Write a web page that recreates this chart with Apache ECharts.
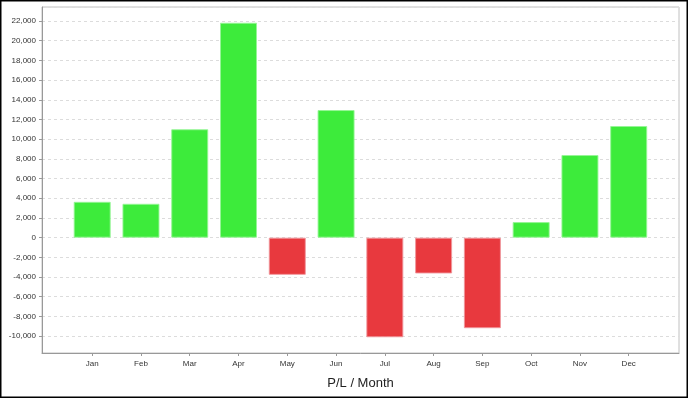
<!DOCTYPE html>
<html>
<head>
<meta charset="utf-8">
<script src="https://cdn.jsdelivr.net/npm/echarts@6.0.0/dist/echarts.min.js"></script>
</head>
<body style="margin:0;background:#fff;">
<div id="main" style="width:688px;height:398px;"></div>
<script type="text/javascript">
var months = ['Jan', 'Feb', 'Mar', 'Apr', 'May', 'Jun', 'Jul', 'Aug', 'Sep', 'Oct', 'Nov', 'Dec'];
var profit = [3640, 3440, 11010, 21830, -3780, 12960, -10120, -3640, -9200, 1580, 8390, 11340];
var yStep = 2000;

var GREEN = '#3deb3b';
var RED = '#e8393e';

// 5% padding above and below the data (the frame axis has no series, so compute it here)
var lo = Math.min.apply(null, profit);
var hi = Math.max.apply(null, profit);
var yMin = lo - (hi - lo) * 0.05;
var yMax = hi + (hi - lo) * 0.05;

var barData = profit.map(function (v) {
    return {
        value: v,
        itemStyle: {
            color: v < 0 ? RED : GREEN,
            borderColor: v < 0 ? 'rgba(240,150,155,0.9)' : 'rgba(150,245,150,0.9)',
            borderWidth: 1
        }
    };
});

var myChart = echarts.init(document.getElementById('main'));
var font = 'Liberation Sans, Arial, sans-serif';
var option = {
    animation: false,
    backgroundColor: '#fff',
    graphic: [{
        type: 'rect',
        shape: { x: 0.75, y: 0.75, width: 686.5, height: 396.5 },
        style: { fill: 'none', stroke: '#000', lineWidth: 1.5 },
        silent: true
    }],
    grid: [
        // frame
        { left: 42, right: 9, top: 7, bottom: 45, show: true, borderColor: '#c0c0c0', borderWidth: 1 },
        // bars
        { left: 67.8, right: 34.9, top: 7, bottom: 45 }
    ],
    xAxis: [
        {
            gridIndex: 0, type: 'value', min: 0, max: 1,
            axisLine: { show: true, onZero: false, lineStyle: { color: '#999' } },
            axisTick: { show: false }, axisLabel: { show: false }, splitLine: { show: false },
            name: 'P/L / Month', nameLocation: 'middle', nameGap: 24,
            nameTextStyle: { fontFamily: font, fontSize: 13, color: '#222' }
        },
        {
            gridIndex: 1, type: 'category', data: months,
            axisLine: { show: false, onZero: false },
            axisTick: { show: true, alignWithLabel: true, length: 3, lineStyle: { color: '#999' } },
            axisLabel: { interval: 0, margin: 7, fontFamily: font, fontSize: 8, color: '#333' }
        }
    ],
    yAxis: [
        {
            gridIndex: 0, type: 'value', min: yMin, max: yMax,
            minInterval: yStep, maxInterval: yStep,
            axisLine: { show: true, onZero: false, lineStyle: { color: '#999' } },
            axisTick: { show: true, length: 3, lineStyle: { color: '#999' } },
            axisLabel: {
                showMinLabel: false, showMaxLabel: false,
                margin: 6, fontFamily: font, fontSize: 8, color: '#333',
                formatter: function (v) { return v % yStep === 0 ? v.toLocaleString('en-US') : ''; }
            },
            splitLine: { show: true, lineStyle: { color: '#dcdcdc', type: [3, 3] } }
        },
        {
            gridIndex: 1, type: 'value', min: yMin, max: yMax, show: false,
            splitLine: { show: false }
        }
    ],
    series: [{
        type: 'bar',
        xAxisIndex: 1,
        yAxisIndex: 1,
        barWidth: 37,
        data: barData
    }]
};
myChart.setOption(option);
</script>
</body>
</html>
